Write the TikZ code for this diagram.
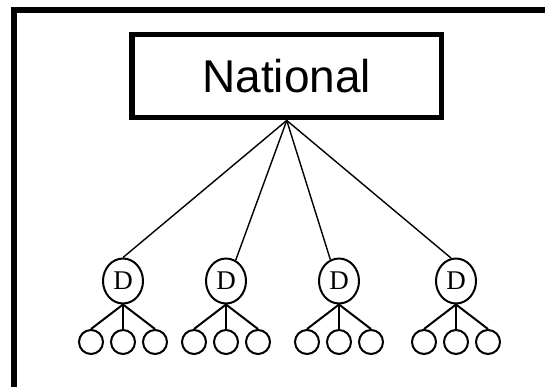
\documentclass[tikz,border=0pt]{standalone}
\usepackage{fontspec}
\setmainfont{Liberation Serif}
\newfontfamily\headfont{Liberation Sans}
\usetikzlibrary{shapes.geometric}
\begin{document}
\begin{tikzpicture}[x=1bp,y=-1bp,
  frameline/.style={line width=5.5bp},
  headbox/.style={draw,frameline,rectangle,inner sep=0pt,
    minimum width=309.5bp,minimum height=83.4bp,
    font=\headfont\fontsize{46bp}{50bp}\selectfont},
  district/.style={draw,ellipse,line width=2bp,inner sep=0pt,
    minimum width=40bp,minimum height=45bp,
    font=\fontsize{27bp}{29bp}\selectfont},
  leaf/.style={draw,circle,line width=2bp,inner sep=0pt,minimum size=24bp},
  link/.style={line width=1.4bp},
  sublink/.style={line width=2bp}]
\useasboundingbox (0,0) rectangle (545,386);
\clip (0,0) rectangle (545,386);
% outer frame (only its top-left corner lies on the page)
\draw[frameline] (13.75,400) -- (13.75,9.75) -- (560,9.75);
% head office
\node[headbox] (nat) at (286.75,76) {National};
% districts and their local units
\foreach \i/\x in {1/123,2/226,3/339,4/456}{
  \node[district] (d\i) at (\x,281) {D};
  \node[leaf] (d\i a) at (\x-32,342) {};
  \node[leaf] (d\i b) at (\x,342) {};
  \node[leaf] (d\i c) at (\x+32,342) {};
  \draw[sublink] (d\i.south) -- (d\i a.north);
  \draw[sublink] (d\i.south) -- (d\i b.north);
  \draw[sublink] (d\i.south) -- (d\i c.north);
}
\draw[link] (nat.south) -- (d1.90);
\draw[link] (nat.south) -- (d2.65);
\draw[link] (nat.south) -- (d3.112);
\draw[link] (nat.south) -- (d4.102);
\end{tikzpicture}
\end{document}
